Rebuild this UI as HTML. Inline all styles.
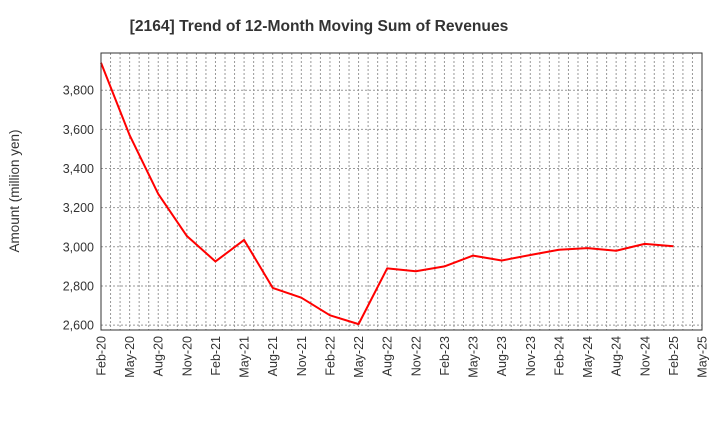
<!DOCTYPE html>
<html><head><meta charset="utf-8"><style>
body{margin:0;background:#fff;font-family:"Liberation Sans",sans-serif;}
</style></head><body>
<svg id="c" width="720" height="440" xmlns="http://www.w3.org/2000/svg">
<text x="319" y="31" font-size="15.6" font-weight="bold" text-anchor="middle" fill="#333">[2164]  Trend of 12-Month Moving Sum of Revenues</text>
<text transform="translate(19,191) rotate(-90)" font-size="13.5" text-anchor="middle" fill="#333">Amount (million yen)</text>
<g id="grid"></g><g id="ticks"></g><g id="series"></g>
<rect x="101" y="53" width="601" height="277" fill="none" stroke="#333"/>
</svg>
<script>
const categories=["Feb-20","May-20","Aug-20","Nov-20","Feb-21","May-21","Aug-21","Nov-21","Feb-22","May-22","Aug-22","Nov-22","Feb-23","May-23","Aug-23","Nov-23","Feb-24","May-24","Aug-24","Nov-24","Feb-25"];
const revenues=[3940,3570,3270,3055,2925,3035,2790,2740,2650,2605,2890,2875,2900,2955,2930,2958,2985,2993,2980,3015,3003];
const xTickLabels=["Feb-20","May-20","Aug-20","Nov-20","Feb-21","May-21","Aug-21","Nov-21","Feb-22","May-22","Aug-22","Nov-22","Feb-23","May-23","Aug-23","Nov-23","Feb-24","May-24","Aug-24","Nov-24","Feb-25","May-25"];
const yTicks=[2600,2800,3000,3200,3400,3600,3800];
const NS="http://www.w3.org/2000/svg";
const L=101,R=702,T=53,B=330,yMin=2575,yMax=3990,months=63;
const x=m=>L+(R-L)*m/months;
const y=v=>B-(B-T)*(v-yMin)/(yMax-yMin);
function mk(tag,attrs,parent){const e=document.createElementNS(NS,tag);for(const k in attrs)e.setAttribute(k,attrs[k]);document.getElementById(parent).appendChild(e);return e;}
for(let m=1;m<months;m++){
 const e=mk("line",{x1:x(m),x2:x(m),y1:T,y2:B,stroke:"#999","stroke-dasharray":"2,2"},"grid");
 
 
}
yTicks.forEach(v=>{
 const g=mk("line",{x1:L,x2:R,y1:y(v),y2:y(v),stroke:"#999","stroke-dasharray":"2,2"},"grid");
 
 
 const t=mk("text",{x:L-7,y:y(v)+4.5,"font-size":12.5,"text-anchor":"end",fill:"#333"},"ticks");
 t.textContent=v.toLocaleString("en-US");
 
 
});
xTickLabels.forEach((lab,i)=>{
 const xx=x(i*3);
 const t=mk("text",{transform:`translate(${xx+4.5},${B+6}) rotate(-90)`,"font-size":12.5,"text-anchor":"end",fill:"#333"},"ticks");
 t.textContent=lab;
 
 
});
const pts=revenues.map((v,i)=>x(i*3)+","+y(v)).join(" ");
const p=mk("polyline",{points:pts,fill:"none",stroke:"#f00","stroke-width":2,"stroke-linejoin":"round"},"series");


</script>
</body></html>
